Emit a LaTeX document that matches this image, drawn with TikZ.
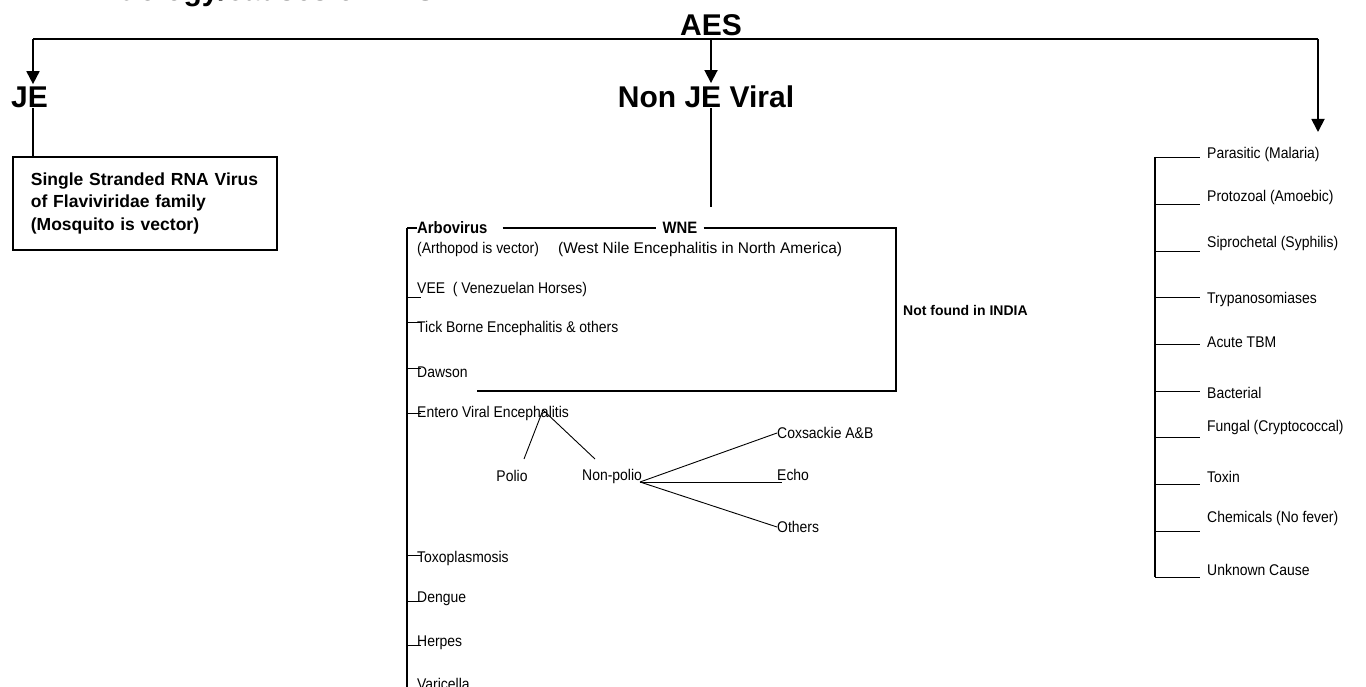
\documentclass[tikz,border=0pt]{standalone}
\usepackage{fontspec}
\setmainfont{Liberation Sans}
\newfontfamily\nfont[FakeStretch=0.9]{Liberation Sans}
\usetikzlibrary{arrows.meta,calc}
\begin{document}
\begin{tikzpicture}[x=1pt,y=-1pt,
  lbl/.style={inner sep=0pt, anchor=west, font=\nfont\fontsize{15.5}{17}\selectfont},
  big/.style={inner sep=0pt, font=\bfseries\fontsize{30}{34}\selectfont},
  mid/.style={inner sep=0pt, font=\nfont\bfseries\fontsize{16.5}{18}\selectfont},
  heavy/.style={line width=1.8pt},
  thinline/.style={line width=0.9pt},
  arr/.style={heavy, -{Triangle[width=13pt,length=13pt]}},
]
\useasboundingbox (0,0) rectangle (1366,687);
% title (cut off at top)
\node[big, anchor=base west] (title) at (100,1) {Etiology/causes of AES};
% top level
\node[big, anchor=base] (aes) at (711,36) {AES};
\coordinate (tl) at (33,39);
\coordinate (tm) at (711,39);
\coordinate (tr) at (1318,39);
\draw[heavy] (tl) -- (tr);
\node[big, anchor=base west] (je) at (11,108) {JE};
\node[big, anchor=base] (nonje) at (706,108) {Non JE Viral};
\draw[arr, shorten >=3pt] (tl) -- (tl |- je.north);
\draw[arr, shorten >=3pt] (tm) -- (tm |- nonje.north);
\coordinate (rtip) at (1318,132);
\draw[arr] (tr) -- (rtip);
% JE box
\node[draw, heavy, anchor=north west, text width=228pt, inner xsep=18pt, inner ysep=0pt,
      minimum height=93pt, align=left, font=\bfseries\fontsize{17.5}{22.5}\selectfont]
      (jebox) at (12,156) {Single Stranded RNA Virus\\of Flaviviridae family\\(Mosquito is vector)};
\draw[heavy] (je.south -| tl) -- (jebox.north -| tl);
% Non JE branch
\node[mid, anchor=west] (arbo) at (417,228) {Arbovirus};
\node[mid] (wne) at (680,228) {WNE};
\draw[heavy, shorten >=15pt] (nonje.south -| tm) -- (wne.north -| tm);
\coordinate (sp0) at (407,228);
\coordinate (sbot) at (407,687);
\draw[heavy] (sp0) -- (arbo.west);
\draw[heavy] (sp0) -- (sbot);
\draw[heavy, shorten <=15pt, shorten >=6pt] (arbo.east) -- (wne.west);
\coordinate (wr) at (896,228);
\coordinate (wb) at (896,391);
\coordinate (wbl) at (477,391);
\draw[heavy, shorten <=6pt] (wne.east) -- (wr) -- (wb) -- (wbl);
\node[lbl] (arth) at (417,249) {(Arthopod is vector)};
\node[inner sep=0pt, anchor=west, font=\fontsize{15.5}{17}\selectfont] (wn) at (558,249) {(West Nile Encephalitis in North America)};
\node[inner sep=0pt, anchor=west, font=\bfseries\fontsize{14}{16}\selectfont] (nf) at (903,310) {Not found in INDIA};
% left list
\foreach \n/\ty/\ly/\t in {vee/297/289/{VEE\ \ ( Venezuelan Horses)},
                           tbe/322/328/{Tick Borne Encephalitis \& others},
                           daw/368/372/{Dawson},
                           ent/413/413/{Entero Viral Encephalitis},
                           toxo/555/558/{Toxoplasmosis},
                           den/601/599/{Dengue},
                           her/645/643/{Herpes}}{
  \node[lbl] (\n) at (417,\ly) {\t};
  \coordinate (\n t) at (407,\ty);
  \draw[thinline] (\n t) -- ($(\n t -| \n.west)+(4,0)$);
}
\node[lbl] (var) at (417,684) {Varicella};
% entero sub-branches
\coordinate (eap) at (543,410);
\node[lbl, anchor=center] (polio) at (512,476) {Polio};
\node[lbl] (np) at (582,476) {Non-polio};
\coordinate (pe) at (524,459);
\coordinate (ne) at (595,459);
\draw[thinline] (eap) -- (pe);
\draw[thinline] (eap) -- (ne);
\coordinate (nb) at (640,482);
\node[lbl] (cox) at (777,433) {Coxsackie A\&B};
\node[lbl] (echo) at (777,475) {Echo};
\node[lbl] (oth) at (777,527) {Others};
\coordinate (ee) at (782,482);
\draw[thinline] (nb) -- (cox.west);
\draw[thinline] (nb) -- (ee);
\draw[thinline] (nb) -- (oth.west);
% right column
\coordinate (rs0) at (1155,157);
\coordinate (rs1) at (1155,577);
\draw[heavy] (rs0) -- (rs1);
\foreach \n/\ty/\ly/\t in {para/157/154/{Parasitic (Malaria)},
                           proto/204/197/{Protozoal (Amoebic)},
                           sipro/251/243/{Siprochetal (Syphilis)},
                           tryp/297/299/{Trypanosomiases},
                           tbm/344/342/{Acute TBM},
                           bact/391/393/{Bacterial},
                           fung/437/427/{Fungal (Cryptococcal)},
                           toxn/484/477/{Toxin},
                           chem/531/518/{Chemicals (No fever)},
                           unk/577/570/{Unknown Cause}}{
  \node[lbl] (\n) at (1207,\ly) {\t};
  \coordinate (\n t) at (1155,\ty);
  \draw[thinline] (\n t) -- ($(\n t)+(45,0)$);
}
\end{tikzpicture}
\end{document}
